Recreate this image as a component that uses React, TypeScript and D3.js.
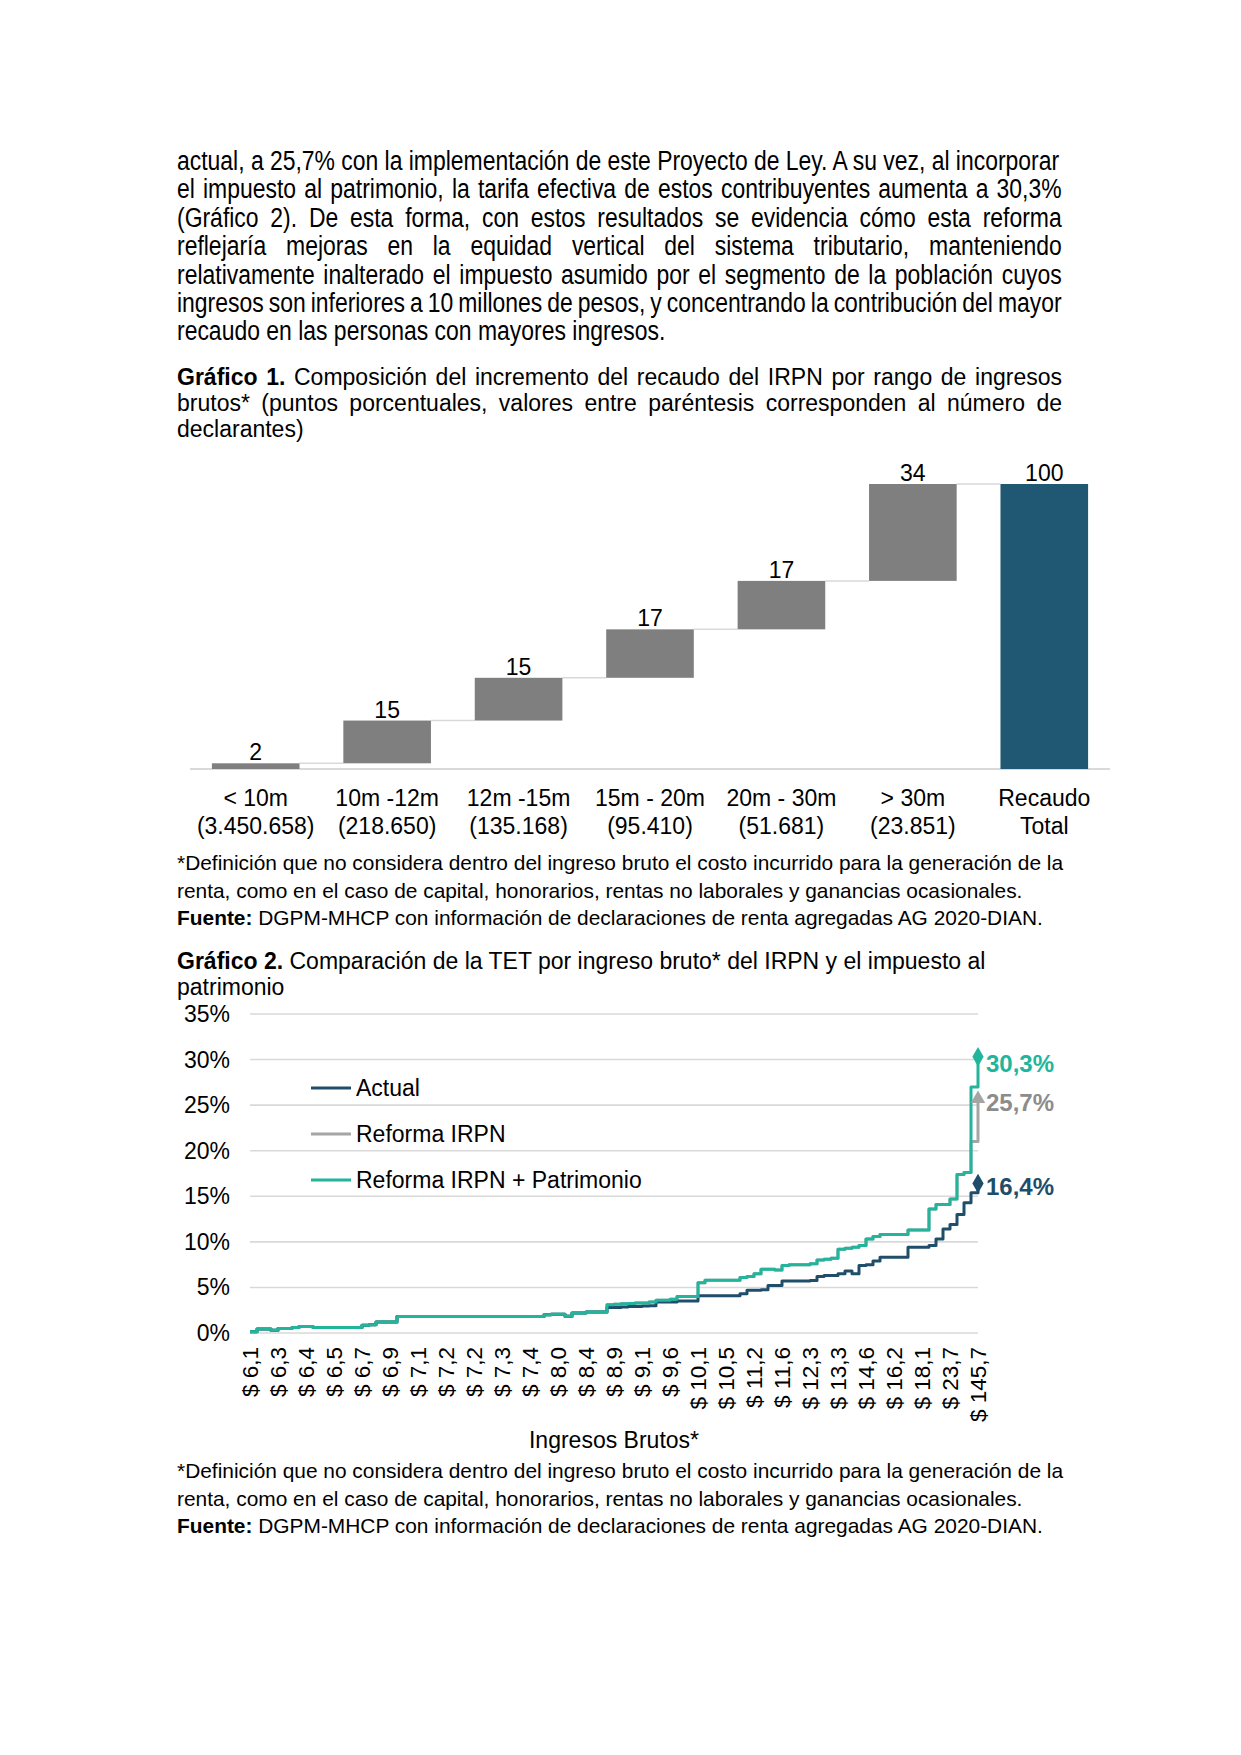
import React from 'react';
import * as d3 from 'd3';

const W = 1241;
const H = 1755;
const FONT = '"Liberation Sans", Arial, Helvetica, sans-serif';

// ---------- Text content ----------
const bodyLines = [
  'actual, a 25,7% con la implementación de este Proyecto de Ley. A su vez, al incorporar',
  'el impuesto al patrimonio, la tarifa efectiva de estos contribuyentes aumenta a 30,3%',
  '(Gráfico 2). De esta forma, con estos resultados se evidencia cómo esta reforma',
  'reflejaría mejoras en la equidad vertical del sistema tributario, manteniendo',
  'relativamente inalterado el impuesto asumido por el segmento de la población cuyos',
  'ingresos son inferiores a 10 millones de pesos, y concentrando la contribución del mayor',
  'recaudo en las personas con mayores ingresos.',
];
const caption1Lines = [
  [{ t: 'Gráfico 1.', b: true }, { t: ' Composición del incremento del recaudo del IRPN por rango de ingresos' }],
  [{ t: 'brutos* (puntos porcentuales, valores entre paréntesis corresponden al número de' }],
  [{ t: 'declarantes)' }],
];
const footnoteLines = [
  [{ t: '*Definición que no considera dentro del ingreso bruto el costo incurrido para la generación de la' }],
  [{ t: 'renta, como en el caso de capital, honorarios, rentas no laborales y ganancias ocasionales.' }],
  [{ t: 'Fuente:', b: true }, { t: ' DGPM-MHCP con información de declaraciones de renta agregadas AG 2020-DIAN.' }],
];
const caption2Lines = [
  [{ t: 'Gráfico 2.', b: true }, { t: ' Comparación de la TET por ingreso bruto* del IRPN y el impuesto al' }],
  [{ t: 'patrimonio' }],
];

// ---------- Chart 1 data ----------
const cats1 = ['< 10m', '10m -12m', '12m -15m', '15m - 20m', '20m - 30m', '> 30m', 'Recaudo'];
const cats1Line2 = ['(3.450.658)', '(218.650)', '(135.168)', '(95.410)', '(51.681)', '(23.851)', 'Total'];
const contributions = [2, 15, 15, 17, 17, 34];
const totalValue = 100;

// ---------- Chart 2 data ----------
const xLabels2 = ['$ 6,1', '$ 6,3', '$ 6,4', '$ 6,5', '$ 6,7', '$ 6,9', '$ 7,1', '$ 7,2', '$ 7,2', '$ 7,3', '$ 7,4', '$ 8,0', '$ 8,4', '$ 8,9', '$ 9,1', '$ 9,6', '$ 10,1', '$ 10,5', '$ 11,2', '$ 11,6', '$ 12,3', '$ 13,3', '$ 14,6', '$ 16,2', '$ 18,1', '$ 23,7', '$ 145,7'];
const labelEvery = 4;
const yTicks2 = [0, 5, 10, 15, 20, 25, 30, 35];

const actual = [
  0.15, 0.45, 0.45, 0.3, 0.5, 0.5, 0.6, 0.7, 0.7, 0.6,
  0.6, 0.6, 0.6, 0.6, 0.6, 0.6, 0.85, 0.9, 1.2, 1.2,
  1.2, 1.8, 1.8, 1.8, 1.8, 1.8, 1.8, 1.8, 1.8, 1.8,
  1.8, 1.8, 1.8, 1.8, 1.8, 1.8, 1.8, 1.8, 1.8, 1.8,
  1.8, 1.8, 2.0, 2.05, 2.05, 1.85, 2.2, 2.2, 2.3, 2.3,
  2.3, 2.8, 2.8, 2.85, 2.9, 2.9, 2.95, 3.0, 3.4, 3.4,
  3.4, 3.5, 3.5, 3.5, 4.1, 4.1, 4.1, 4.1, 4.1, 4.1,
  4.3, 4.7, 4.7, 4.75, 5.2, 5.2, 5.7, 5.7, 5.7, 5.7,
  5.75, 6.2, 6.3, 6.3, 6.5, 6.8, 6.5, 7.4, 7.5, 7.9,
  8.3, 8.3, 8.3, 8.3, 9.4, 9.4, 9.4, 9.6, 10.3, 11.4,
  11.9, 13.0, 14.3, 15.4, 16.4,
];
const reformaIRPN = [
  0.15, 0.45, 0.45, 0.3, 0.5, 0.5, 0.6, 0.7, 0.7, 0.6,
  0.6, 0.6, 0.6, 0.6, 0.6, 0.6, 0.85, 0.9, 1.2, 1.2,
  1.2, 1.8, 1.8, 1.8, 1.8, 1.8, 1.8, 1.8, 1.8, 1.8,
  1.8, 1.8, 1.8, 1.8, 1.8, 1.8, 1.8, 1.8, 1.8, 1.8,
  1.8, 1.8, 2.0, 2.05, 2.05, 1.85, 2.2, 2.2, 2.3, 2.3,
  2.3, 3.1, 3.15, 3.2, 3.25, 3.3, 3.3, 3.4, 3.6, 3.6,
  3.7, 4.0, 4.0, 4.0, 5.5, 5.8, 5.8, 5.8, 5.8, 5.8,
  6.1, 6.2, 6.5, 7.0, 7.0, 6.9, 7.4, 7.5, 7.5, 7.5,
  7.6, 8.0, 8.1, 8.2, 9.2, 9.3, 9.4, 9.6, 10.3, 10.6,
  10.8, 10.8, 10.8, 10.8, 11.3, 11.3, 11.3, 13.6, 14.1, 14.1,
  14.7, 17.4, 17.6, 21.0, 25.7,
];
const reformaPatrimonio = [
  0.15, 0.45, 0.45, 0.3, 0.5, 0.5, 0.6, 0.7, 0.7, 0.6,
  0.6, 0.6, 0.6, 0.6, 0.6, 0.6, 0.85, 0.9, 1.2, 1.2,
  1.2, 1.8, 1.8, 1.8, 1.8, 1.8, 1.8, 1.8, 1.8, 1.8,
  1.8, 1.8, 1.8, 1.8, 1.8, 1.8, 1.8, 1.8, 1.8, 1.8,
  1.8, 1.8, 2.0, 2.05, 2.05, 1.85, 2.2, 2.2, 2.3, 2.3,
  2.3, 3.1, 3.15, 3.2, 3.25, 3.3, 3.3, 3.4, 3.6, 3.6,
  3.7, 4.0, 4.0, 4.0, 5.5, 5.8, 5.8, 5.8, 5.8, 5.8,
  6.1, 6.2, 6.5, 7.0, 7.0, 6.9, 7.4, 7.5, 7.5, 7.5,
  7.6, 8.0, 8.1, 8.2, 9.2, 9.3, 9.4, 9.6, 10.3, 10.6,
  10.8, 10.8, 10.8, 10.8, 11.3, 11.3, 11.3, 13.6, 14.1, 14.1,
  14.7, 17.4, 17.6, 27.0, 30.3,
];
const seriesNames = ['Actual', 'Reforma IRPN', 'Reforma IRPN + Patrimonio'];
const endLabels = ['16,4%', '25,7%', '30,3%'];

// ---------- Styles ----------
const C_GRAY_BAR = '#7f7f7f';
const C_TOTAL = '#205773';
const C_GRID = '#d9d9d9';
const C_ACTUAL = '#1f4e6b';
const C_IRPN = '#a5a5a5';
const C_PATR = '#22b59c';

// ---------- Measurement ----------
let _ctx: CanvasRenderingContext2D | null = null;
function measure(text: string, font: string): number {
  if (!_ctx) _ctx = document.createElement('canvas').getContext('2d');
  if (!_ctx) return text.length * 10;
  _ctx.font = font;
  return _ctx.measureText(text).width;
}

type Part = { t: string; b?: boolean };

function TextLine(props: { x: number; y: number; parts: Part[]; size: number; family: string; justifyTo?: number; fill?: string; sx?: number }) {
  const { x, y, parts, size, family, justifyTo, fill = '#000', sx = 1 } = props;
  const fontOf = (b?: boolean) => `${b ? 'bold ' : ''}${size}px ${family}`;
  const natural = parts.reduce((s, p) => s + measure(p.t, fontOf(p.b)), 0) * sx;
  const spaces = parts.reduce((s, p) => s + (p.t.match(/ /g) || []).length, 0);
  let ws = 0;
  if (justifyTo && spaces > 0) {
    ws = (justifyTo - natural) / spaces / sx;
  }
  return (
    <text transform={`translate(${x},${y}) scale(${sx},1)`} x={0} y={0} fontSize={size} fontFamily={family} fill={fill} style={{ wordSpacing: `${ws}px`, whiteSpace: 'pre' }}>
      {parts.map((p, i) => (
        <tspan key={i} fontWeight={p.b ? 'bold' : 'normal'}>{p.t}</tspan>
      ))}
    </text>
  );
}

const LEFT = 177;
const TEXT_W = 885;

function WaterfallChart() {
  const x = d3.scaleBand<string>().domain(cats1).range([190, 1110]).paddingInner(1 / 3).paddingOuter(1 / 6);
  const y = d3.scaleLinear().domain([0, 100]).range([769, 484]);
  const bw = x.bandwidth();
  const cum = [0];
  contributions.forEach((v) => cum.push(cum[cum.length - 1] + v));
  const bars = contributions.map((v, i) => ({ cat: cats1[i], start: cum[i], end: cum[i + 1], v, total: false }));
  bars.push({ cat: cats1[6], start: 0, end: totalValue, v: totalValue, total: true });
  return (
    <g>
      <line x1={190} x2={1110} y1={y(0)} y2={y(0)} stroke={C_GRID} strokeWidth={2} />
      {bars.slice(0, -1).map((b, i) => (
        <line key={'c' + i} x1={(x(b.cat) as number) + bw} x2={x(bars[i + 1].cat) as number} y1={y(b.end)} y2={y(b.end)} stroke={C_GRID} strokeWidth={1.5} />
      ))}
      {bars.map((b, i) => (
        <rect key={'b' + i} x={x(b.cat)} width={bw} y={y(b.end)} height={y(b.start) - y(b.end)} fill={b.total ? C_TOTAL : C_GRAY_BAR} />
      ))}
      {bars.map((b, i) => (
        <text key={'v' + i} x={(x(b.cat) as number) + bw / 2} y={y(b.end) - 3} textAnchor="middle" fontSize={23} fontFamily={FONT}>{b.v}</text>
      ))}
      {cats1.map((c, i) => (
        <g key={'l' + i}>
          <text x={(x(c) as number) + bw / 2} y={806} textAnchor="middle" fontSize={23} fontFamily={FONT}>{c}</text>
          <text x={(x(c) as number) + bw / 2} y={834} textAnchor="middle" fontSize={23} fontFamily={FONT}>{cats1Line2[i]}</text>
        </g>
      ))}
    </g>
  );
}

function LineChart() {
  const N = reformaPatrimonio.length;
  const x = d3.scaleLinear().domain([0, N - 1]).range([250, 978]);
  const y = d3.scaleLinear().domain([0, 35]).range([1333, 1014]);
  const line = d3.line<number>().x((_, i) => x(i)).y((d) => y(d)).curve(d3.curveStepAfter);
  const series = [
    { name: seriesNames[0], data: actual, color: C_ACTUAL, label: endLabels[0], labelColor: C_ACTUAL, marker: 'diamond', dy: 11 },
    { name: seriesNames[1], data: reformaIRPN, color: C_IRPN, label: endLabels[1], labelColor: '#8c8c8c', marker: 'triangle', dy: 12 },
    { name: seriesNames[2], data: reformaPatrimonio, color: C_PATR, label: endLabels[2], labelColor: C_PATR, marker: 'diamond', dy: 15 },
  ];
  const drawOrder = [1, 0, 2];
  const diamond = d3.symbol(d3.symbolDiamond, 110)();
  const triangle = d3.symbol(d3.symbolTriangle, 90)();
  return (
    <g>
      {yTicks2.map((t) => (
        <g key={t}>
          <line x1={250} x2={978} y1={y(t)} y2={y(t)} stroke={C_GRID} strokeWidth={1.6} />
          <text x={230} y={y(t) + 8} textAnchor="end" fontSize={23} fontFamily={FONT}>{t}%</text>
        </g>
      ))}
      {xLabels2.map((l, i) => (
        <text key={i} transform={`translate(${x(i * labelEvery)},1347) rotate(-90)`} textAnchor="end" dy="0.35em" fontSize={22.5} fontFamily={FONT}>{l}</text>
      ))}
      <text x={614} y={1448} textAnchor="middle" fontSize={23} fontFamily={FONT}>Ingresos Brutos*</text>
      {drawOrder.map((k) => {
        const s = series[k];
        return <path key={s.name} d={line(s.data) || ''} fill="none" stroke={s.color} strokeWidth={3} strokeLinejoin="round" />;
      })}
      {drawOrder.map((k) => {
        const s = series[k];
        const last = s.data[N - 1];
        return (
          <g key={'m' + s.name}>
            <path d={(s.marker === 'diamond' ? diamond : triangle) || ''} transform={`translate(${x(N - 1)},${y(last)})`} fill={s.color} />
            <text x={986} y={y(last) + s.dy} fontSize={24} fontWeight="bold" fontFamily={FONT} fill={s.labelColor}>{s.label}</text>
          </g>
        );
      })}
      {series.map((s, i) => (
        <g key={'lg' + i}>
          <line x1={311} x2={351} y1={1088 + i * 46} y2={1088 + i * 46} stroke={s.color} strokeWidth={3} />
          <text x={356} y={1096 + i * 46} fontSize={23} fontFamily={FONT}>{s.name}</text>
        </g>
      ))}
    </g>
  );
}

export default function App() {
  const bodyBase = 170;
  const bodyStep = 28.4;
  return (
    <div style={{ position: 'absolute', left: 0, top: 0, width: W, height: H, background: '#fff' }}>
      <svg width={W} height={H} viewBox={`0 0 ${W} ${H}`} style={{ display: 'block' }}>
        <rect x={0} y={0} width={W} height={H} fill="#fff" />
        {bodyLines.map((l, i) => (
          <TextLine key={'p' + i} x={LEFT} y={bodyBase + i * bodyStep} parts={[{ t: l }]} size={27} sx={0.85} family={FONT} justifyTo={i < bodyLines.length - 1 ? TEXT_W : undefined} />
        ))}
        {caption1Lines.map((parts, i) => (
          <TextLine key={'c1' + i} x={LEFT} y={385 + i * 26} parts={parts} size={23} family={FONT} justifyTo={i < 2 ? TEXT_W : undefined} />
        ))}
        <WaterfallChart />
        {footnoteLines.map((parts, i) => (
          <TextLine key={'f1' + i} x={LEFT} y={870 + i * 27.5} parts={parts} size={20.9} family={FONT} />
        ))}
        {caption2Lines.map((parts, i) => (
          <TextLine key={'c2' + i} x={LEFT} y={969 + i * 26} parts={parts} size={23} family={FONT} />
        ))}
        <LineChart />
        {footnoteLines.map((parts, i) => (
          <TextLine key={'f2' + i} x={LEFT} y={1478 + i * 27.5} parts={parts} size={20.9} family={FONT} />
        ))}
      </svg>
    </div>
  );
}
